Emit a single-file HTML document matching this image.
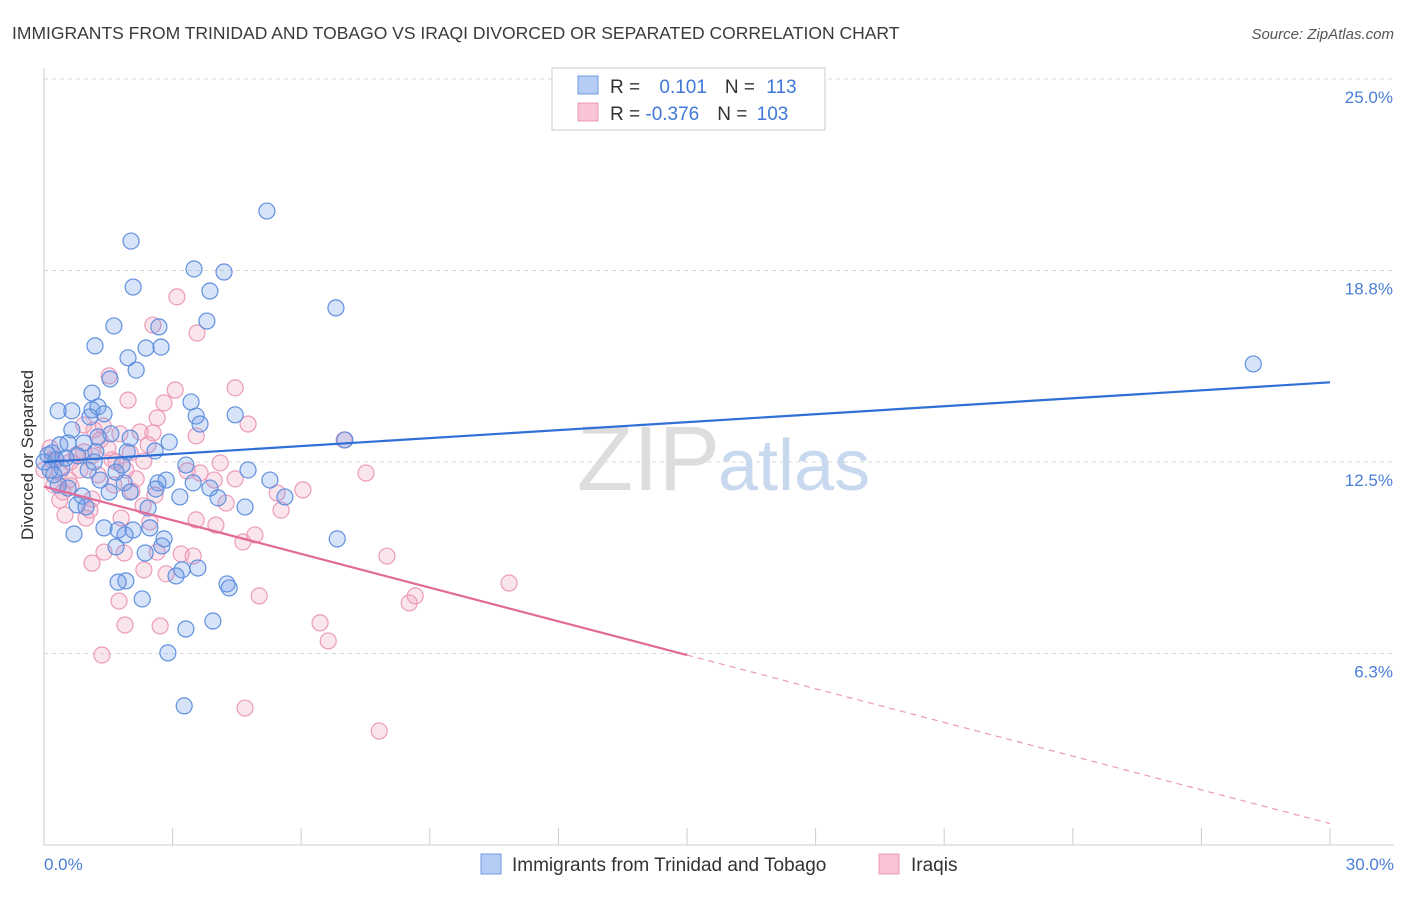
<!DOCTYPE html>
<html><head><meta charset="utf-8">
<style>
body{margin:0;background:#fff;font-family:"Liberation Sans",sans-serif;}
svg text{font-family:"Liberation Sans",sans-serif;}
</style></head>
<body>
<svg width="1406" height="892" xmlns="http://www.w3.org/2000/svg">
<text x="12" y="39" font-size="17.5" fill="#3a3a3a">IMMIGRANTS FROM TRINIDAD AND TOBAGO VS IRAQI DIVORCED OR SEPARATED CORRELATION CHART</text>
<text x="1394" y="39" font-size="15" fill="#555" font-style="italic" text-anchor="end">Source: ZipAtlas.com</text>
<g id="grid"></g>
<text x="720" y="490" font-size="92" fill="#ddd" text-anchor="end" font-family="Liberation Serif">ZIP</text>
<text x="718" y="490" font-size="72" fill="#c8d8ee">atlas</text>
<g id="pts"></g>
<g id="lines"></g>
<text transform="translate(33,455) rotate(-90)" font-size="17" fill="#333" text-anchor="middle">Divorced or Separated</text>
<text x="44" y="870" font-size="17" fill="#4a7fd6">0.0%</text>
<text x="1394" y="870" font-size="17" fill="#4a7fd6" text-anchor="end">30.0%</text>
<g>
<rect x="552" y="68" width="273" height="62" fill="#fff" stroke="#ccc"/>
<rect x="578" y="76" width="20" height="18" fill="#b5cdf5" stroke="#6f9ae0"/>
<rect x="578" y="103" width="20" height="18" fill="#f9c4d5" stroke="#e89ab5"/>
<text x="610" y="93" font-size="19" fill="#333">R = <tspan fill="#3f78d8" dx="14">0.101</tspan><tspan dx="18" fill="#333">N = </tspan><tspan fill="#3f78d8" dx="6">113</tspan></text>
<text x="610" y="120" font-size="19" fill="#333">R = <tspan fill="#3f78d8">-0.376</tspan><tspan dx="18" fill="#333">N = </tspan><tspan fill="#3f78d8" dx="4">103</tspan></text>
</g>
<g>
<rect x="481" y="854" width="20" height="20" fill="#b5cdf5" stroke="#6f9ae0"/>
<text x="512" y="871" font-size="19" fill="#333">Immigrants from Trinidad and Tobago</text>
<rect x="879" y="854" width="20" height="20" fill="#f9c4d5" stroke="#e89ab5"/>
<text x="911" y="871" font-size="19" fill="#333">Iraqis</text>
</g>
</svg>
<script>
const yTicks=[25,18.75,12.5,6.25];
const yTickLabels=["25.0%","18.8%","12.5%","6.3%"];
const xTicks=[0,3,6,9,12,15,18,21,24,27,30];
const blueX=[5.20,2.03,3.50,4.20,2.08,3.87,6.81,1.63,2.68,3.80,1.19,2.38,2.73,1.96,2.15,1.54,28.21,1.12,0.65,1.12,1.26,3.43,4.46,3.55,3.64,1.07,1.40,0.33,0.65,1.56,2.01,1.26,0.37,0.93,0.56,2.92,0.19,0.28,0.79,1.21,1.94,2.59,7.02,3.31,4.76,5.27,2.85,2.66,3.48,3.87,1.68,1.87,1.31,0.56,0.89,1.52,2.01,3.17,4.06,4.69,5.62,2.61,0.77,0.98,2.43,1.40,1.73,2.08,2.47,1.89,0.70,2.80,2.75,6.84,1.68,2.36,3.59,3.22,3.08,1.91,1.73,4.27,4.32,2.29,3.94,3.31,2.89,3.27,0,0.09,0.14,0.42,0.51,0.23,1.03,1.17,1.82,0.33];
const blueY=[20.69,19.71,18.80,18.70,18.21,18.08,17.53,16.94,16.91,17.10,16.29,16.22,16.25,15.90,15.50,15.21,15.70,14.75,14.17,14.20,14.30,14.46,14.04,14.00,13.74,13.97,14.07,14.17,13.55,13.42,13.28,13.32,13.06,13.12,13.12,13.15,12.80,12.57,12.70,12.83,12.83,12.86,13.22,12.40,12.24,11.91,11.91,11.82,11.82,11.65,12.17,11.82,11.91,11.65,11.39,11.52,11.52,11.36,11.33,11.03,11.36,11.62,11.10,11.03,11.00,10.35,10.28,10.28,10.35,10.12,10.15,9.99,9.76,9.99,9.73,9.53,9.04,8.98,8.78,8.62,8.58,8.52,8.39,8.03,7.31,7.05,6.27,4.54,12.50,12.73,12.24,12.31,12.63,12.08,12.24,12.50,12.40,11.75];
const pinkX=[3.10,3.57,2.54,4.46,3.06,1.52,1.96,2.80,2.64,4.76,1.38,1.77,2.24,2.54,2.43,7.00,0.93,1.12,1.59,2.33,3.64,3.34,7.51,4.46,5.44,6.04,4.25,5.53,0.44,0.63,1.12,1.07,2.05,2.31,2.59,3.55,4.01,1.80,2.47,0.49,1.40,1.87,2.64,3.20,3.48,4.64,4.92,1.12,2.33,2.85,8.00,1.75,2.71,1.89,5.02,1.35,6.44,6.63,8.52,8.66,10.85,4.69,7.82,0,0.14,0.28,0.37,0.61,0.75,0.84,1.26,1.49,1.68,1.91,2.15,0.37,1.31,0.93,1.17,0.58,3.97,3.55,4.11,0.98,0.23,1.63,2.01,0.19];
const pinkY=[17.89,16.71,16.97,14.92,14.85,15.31,14.52,14.43,13.94,13.74,13.68,13.42,13.48,13.45,13.06,13.22,12.83,12.70,12.57,12.53,12.14,12.21,12.14,11.95,11.49,11.59,11.16,10.93,11.52,11.72,11.29,10.93,11.55,11.07,11.42,10.61,10.44,10.67,10.54,10.77,9.56,9.53,9.56,9.50,9.43,9.89,10.12,9.20,8.98,8.85,9.43,7.96,7.15,7.18,8.13,6.20,7.25,6.66,7.90,8.13,8.55,4.47,3.72,12.24,12.96,12.57,12.17,12.50,12.73,12.24,12.08,12.96,12.50,12.24,11.95,11.26,13.22,13.71,13.55,11.91,11.91,13.35,12.47,10.67,11.75,11.75,12.80,12.57];
const blueTrend=[12.5,15.1];
const pinkTrend=[11.7,0.7];
const pinkSolidEnd=15;

const NS="http://www.w3.org/2000/svg";
const X0=44,X1=1330,Y0=845,Y1=79;
function sx(v){return X0+(v/30)*(X1-X0);}
function sy(v){return Y0-(v/25)*(Y0-Y1);}
function mk(tag,attrs,parent){const e=document.createElementNS(NS,tag);for(const k in attrs)e.setAttribute(k,attrs[k]);parent.appendChild(e);return e;}
const grid=document.getElementById('grid');
yTicks.forEach((t,i)=>{
  const l=mk('line',{x1:X0,x2:1394,y1:sy(t),y2:sy(t),stroke:'#d8d8d8','stroke-dasharray':'4,4'},grid);
  
  
  const tx=mk('text',{x:1393,y:sy(t)+24,'font-size':17,fill:'#4a7fd6','text-anchor':'end'},grid);
  tx.textContent=yTickLabels[i];
  
  
});
const ya=mk('line',{x1:X0,x2:X0,y1:68,y2:Y0,stroke:'#ccc'},grid);


const xa=mk('line',{x1:X0,x2:1394,y1:Y0,y2:Y0,stroke:'#ccc'},grid);


xTicks.forEach(t=>{
  const l=mk('line',{x1:sx(t),x2:sx(t),y1:Y0,y2:Y0-17,stroke:'#ccc'},grid);
  
  
});
const pts=document.getElementById('pts');
function dots(xs,ys,fill,stroke,name){
  xs.forEach((x,i)=>{
    const c=mk('circle',{cx:sx(x),cy:sy(ys[i]),r:8,fill:fill,stroke:stroke,'stroke-width':1.2},pts);
    
    
  });
}
dots(pinkX,pinkY,'rgba(242,160,190,0.28)','#ec9ab8','iraqi-point');
dots(blueX,blueY,'rgba(110,155,230,0.28)','#5f90de','trinidad-point');
const lines=document.getElementById('lines');
const bl=mk('line',{x1:sx(0),y1:sy(blueTrend[0]),x2:sx(30),y2:sy(blueTrend[1]),stroke:'#2f6fd6','stroke-width':2.2},lines);


const pm=pinkTrend[0]+(pinkTrend[1]-pinkTrend[0])*pinkSolidEnd/30;
const pl=mk('line',{x1:sx(0),y1:sy(pinkTrend[0]),x2:sx(pinkSolidEnd),y2:sy(pm),stroke:'#e26a96','stroke-width':2.2},lines);


const pd=mk('line',{x1:sx(pinkSolidEnd),y1:sy(pm),x2:sx(30),y2:sy(pinkTrend[1]),stroke:'#eb9ab8','stroke-width':1.2,'stroke-dasharray':'6,5'},lines);


</script>
</body></html>
